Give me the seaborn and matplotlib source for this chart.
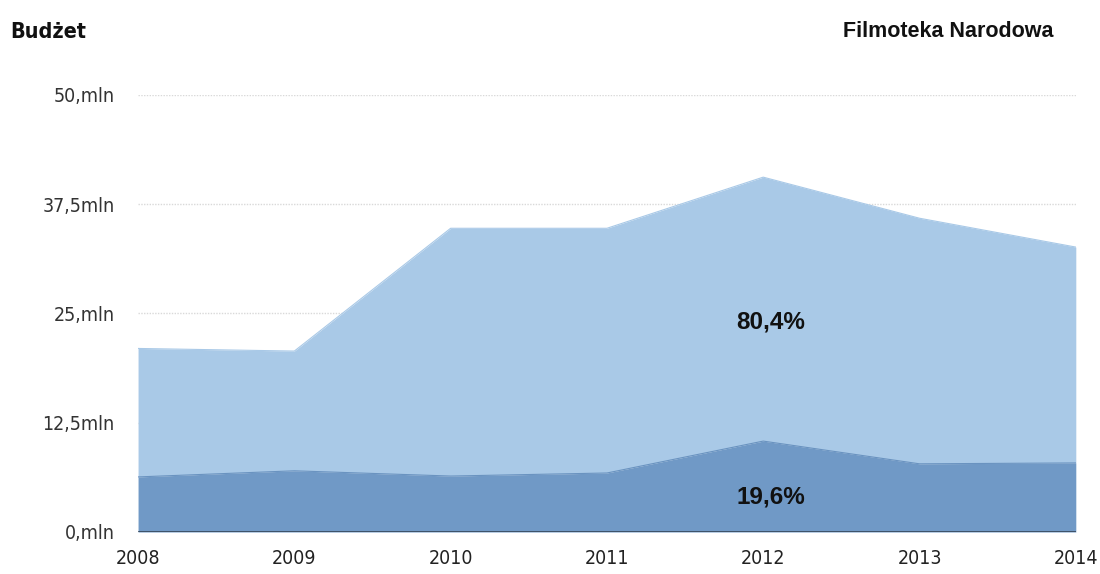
import matplotlib
matplotlib.use("Agg")
import matplotlib.pyplot as plt
from matplotlib import font_manager as fm
import seaborn as sns
import pandas as pd

# Budget of Filmoteka Narodowa, in millions of PLN
years = [2008, 2009, 2010, 2011, 2012, 2013, 2014]
budget_total = [21.0, 20.7, 34.75, 34.75, 40.6, 35.9, 32.6]
budget_part = [6.3, 7.0, 6.4, 6.75, 10.4, 7.8, 7.9]
y_ticks = [0, 12.5, 25, 37.5, 50]
y_tick_labels = ["0,mln", "12,5mln", "25,mln", "37,5mln", "50,mln"]
share_labels = ["80,4%", "19,6%"]

df = pd.DataFrame({"rok": years, "total": budget_total, "part": budget_part})

sns.set_theme(style="white")
plt.rcParams["font.family"] = ["DejaVu Sans"]


def condensed_font(weight="normal"):
    """Pick a narrow sans face for the axis labels, if one is installed."""
    best = None
    for f in fm.fontManager.ttflist:
        if "condensed" in str(f.stretch).lower() or "Condensed" in f.name:
            if f.name.startswith(("Roboto", "DejaVu Sans", "Open Sans", "Liberation Sans Narrow", "Noto Sans")):
                w = f.weight if isinstance(f.weight, int) else (700 if "bold" in str(f.weight) else 400)
                want = 700 if weight == "bold" else 400
                score = abs(w - want) + (0 if f.style == "normal" else 1000)
                if best is None or score < best[0]:
                    best = (score, f.fname)
    if best is not None:
        return fm.FontProperties(fname=best[1])
    return fm.FontProperties(family="Roboto", weight=weight)


tick_font = condensed_font("normal")
tick_font.set_size(14)
title_font = condensed_font("bold")
title_font.set_size(15.5)

light_blue = "#a9c9e7"
dark_blue = "#7099c6"

fig = plt.figure(figsize=(11, 5.74), dpi=100)
ax = fig.add_axes([0.1255, 0.0732, 0.8525, 0.7613])

ax.fill_between(df["rok"], df["part"], df["total"], color=light_blue, lw=0, zorder=2)
ax.fill_between(df["rok"], 0, df["part"], color=dark_blue, lw=0, zorder=3)
sns.lineplot(data=df, x="rok", y="total", ax=ax, color=light_blue, lw=0.8, zorder=2.5)
sns.lineplot(data=df, x="rok", y="part", ax=ax, color="#6a93c0", lw=0.8, zorder=3.5)

for yv in y_ticks[1:]:
    ax.axhline(yv, color="#d9d9d9", lw=1.0, ls=(0, (1, 1)), zorder=1)
ax.axhline(0, color="#2f3d4c", lw=1.8, zorder=5)

ax.set_xlim(years[0], years[-1])
ax.set_ylim(0, 50)
ax.set_xticks(years)
ax.set_xticklabels([str(y) for y in years], fontproperties=tick_font, color="#222222")
ax.set_yticks(y_ticks)
ax.set_yticklabels(y_tick_labels, fontproperties=tick_font, color="#333333")
ax.tick_params(axis="y", length=0, pad=17)
ax.tick_params(axis="x", length=0, pad=12)
ax.set_xlabel("")
ax.set_ylabel("")
for s in ax.spines.values():
    s.set_visible(False)

label_font = fm.FontProperties(family="Liberation Sans", weight="bold", size=17.5)
ax.text(2012.05, 24.0, share_labels[0], ha="center", va="center",
        fontproperties=label_font, color="#111111", zorder=6)
ax.text(2012.05, 4.0, share_labels[1], ha="center", va="center",
        fontproperties=label_font, color="#111111", zorder=6)

fig.text(0.009, 0.945, "Budżet", fontproperties=title_font, color="#111111",
         ha="left", va="center")
fig.text(0.766, 0.945, "Filmoteka Narodowa", fontsize=15.5, family="Liberation Sans",
         fontweight="bold", color="#111111", ha="left", va="center")

fig.savefig("out.png", dpi=100)
